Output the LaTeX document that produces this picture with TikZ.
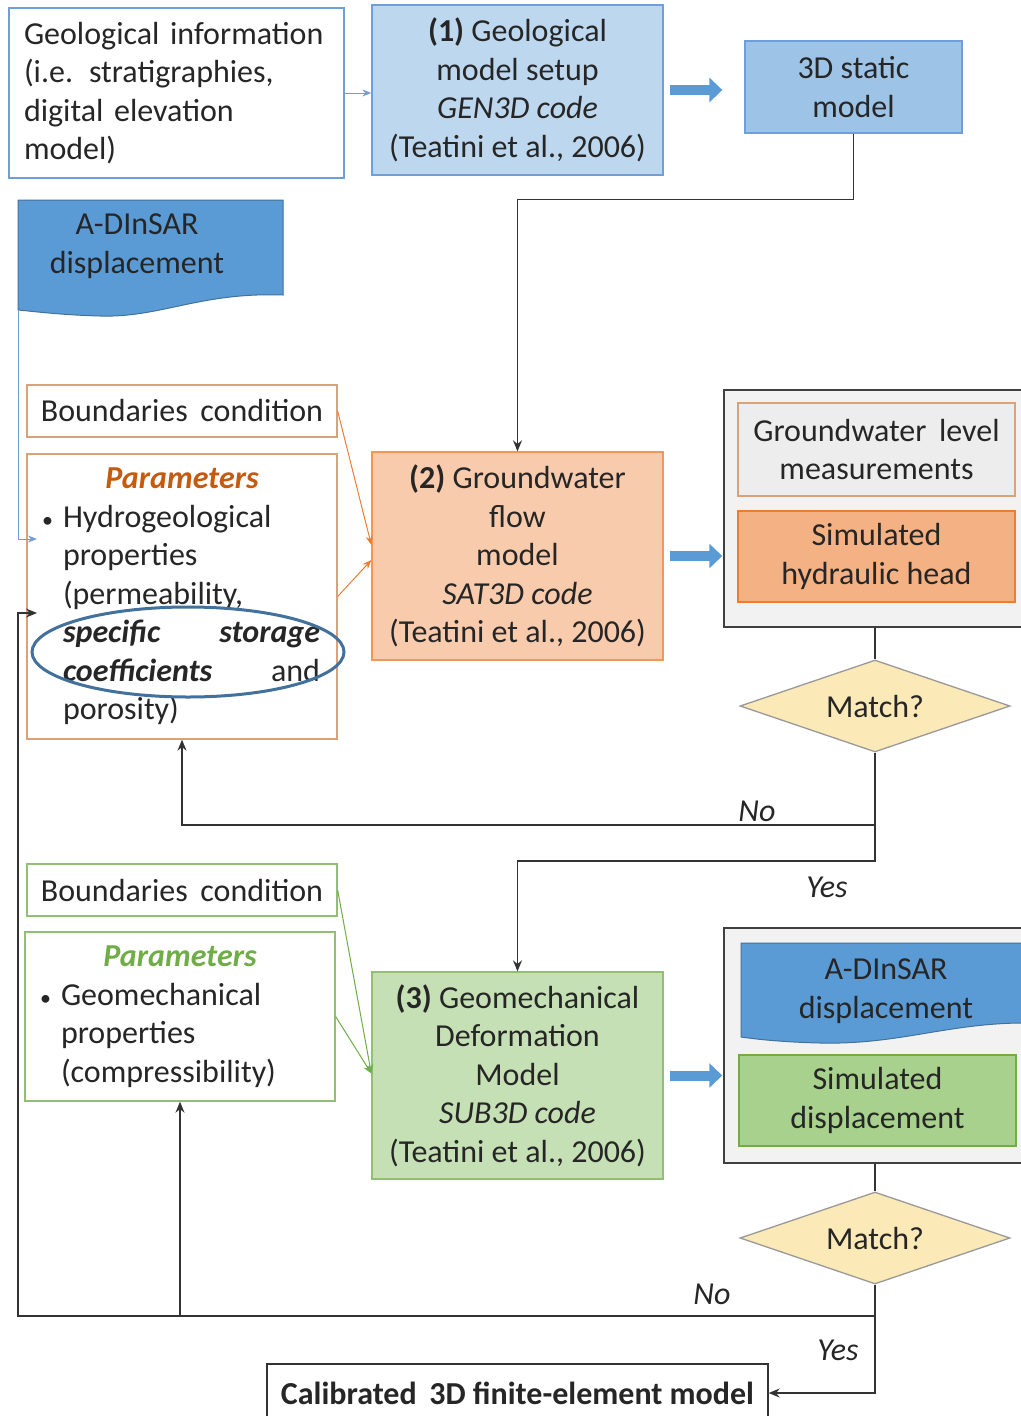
\documentclass[tikz,border=0pt]{standalone}
\usepackage{fontspec}
\setmainfont{Carlito}
\usepackage{xcolor}
\usetikzlibrary{shapes.geometric,arrows.meta}

\definecolor{txt}{HTML}{262626}
\definecolor{blueline}{HTML}{6F9FD8}
\definecolor{bluefill}{HTML}{BDD7EE}
\definecolor{bluemid}{HTML}{9DC3E6}
\definecolor{bluedark}{HTML}{5B9BD5}
\definecolor{bluedraw}{HTML}{41719C}
\definecolor{orgline}{HTML}{D9A27A}
\definecolor{orgfill}{HTML}{F8CBAD}
\definecolor{orgmid}{HTML}{F4B183}
\definecolor{orgdraw}{HTML}{ED7D31}
\definecolor{orgtext}{HTML}{C55A11}
\definecolor{grnline}{HTML}{93BE76}
\definecolor{grnfill}{HTML}{C5E0B4}
\definecolor{grnmid}{HTML}{A9D18E}
\definecolor{grndraw}{HTML}{70AD47}
\definecolor{panel}{HTML}{F2F2F2}
\definecolor{match}{HTML}{FCE9B8}

\newcommand{\smallbullet}{{\fontsize{22}{22}\selectfont\textbullet}}

\begin{document}
\begin{tikzpicture}[x=1pt, y=-1pt,
    font=\fontsize{32}{38.5}\selectfont, text=txt,
    box/.style={shape=rectangle, draw, line width=1.3pt, align=center, inner sep=0pt},
    txtbox/.style={box, align=left, inner xsep=15pt},
    panelbox/.style={shape=rectangle, draw=black!75, fill=panel, line width=1.5pt},
    ask/.style={shape=diamond, draw=black!40, fill=match, line width=1.3pt, aspect=3,
      inner sep=0pt, minimum width=270, minimum height=92},
    doc/.style={draw=bluedraw, fill=bluedark, line width=1pt},
    line/.style={draw=black!80, line width=1.5pt},
    arr/.style={line, -{Stealth[length=11pt,width=9pt]}},
    thin/.style={line width=1pt, -{Stealth[length=9pt,width=7pt]}},
    fat/.style={draw=bluedark, line width=10pt, -{Triangle[length=13pt,width=24pt]}},
    lab/.style={font=\fontsize{32}{38.5}\selectfont\itshape}]
    \useasboundingbox[fill=white] (0,0) rectangle (1020,1416);

    % top row
    \node[txtbox, draw=blueline, minimum width=335, minimum height=170, text width=305] (geoinfo) at (176.5,93)
      {Geological information\\(i.e. stratigraphies,\\digital elevation\\model)};
    \node[box, draw=blueline, fill=bluefill, minimum width=291, minimum height=170] (setup) at (517.5,90)
      {\textbf{(1)} Geological\\model setup\\\textit{GEN3D code}\\(Teatini et al., 2006)};
    \node[box, draw=blueline, fill=bluemid, minimum width=217, minimum height=92] (static) at (853.5,87)
      {3D static\\model};

    % satellite data
    \draw[doc] (18,200) -- (283,200) -- (283,295) .. controls (200,292) and (160,318) .. (100,316)
      .. controls (60,315) and (30,311) .. (18,310) -- cycle;
    \node[align=center] (insar) at (137,246) {A-DInSAR\\displacement};
    \coordinate (insarfoot) at (18,310);

    % groundwater flow
    \node[box, draw=orgline, minimum width=310, minimum height=52] (bc1) at (182,411) {Boundaries\, condition};
    \node[txtbox, draw=orgline, minimum width=310, minimum height=285, text width=280] (par1) at (182,596.5) {%
      \centering\textcolor{orgtext}{\bfseries\itshape Parameters}\par
      \raggedright\leftskip=21pt
      \leavevmode\llap{\smallbullet\hspace{10pt}}Hydrogeological\\
      properties\\
      (permeability,\\
      \makebox[257pt][l]{\textbf{\textit{specific}}\hfill\textbf{\textit{storage}}}\\
      \makebox[257pt][l]{\textbf{\textit{coefficients}}\hfill and}\\
      porosity)\par};
    \node[box, draw=orgdraw!80, fill=orgfill, minimum width=291, minimum height=208] (flow) at (517.5,556)
      {\textbf{(2)} Groundwater\\flow\\model\\\textit{SAT3D code}\\(Teatini et al., 2006)};
    \node[panelbox, minimum width=302, minimum height=237] (cont1) at (875,508.5) {};
    \node[box, draw=orgline, fill=black!7, minimum width=277, minimum height=93] (gwl) at (876.5,449.5)
      {Groundwater\, level\\measurements};
    \node[box, draw=orgdraw, fill=orgmid, minimum width=277, minimum height=91] (simhead) at (876.5,556.5)
      {Simulated\\hydraulic head};
    \node[ask] (match1) at (875,706) {Match?};

    % deformation
    \node[box, draw=grnline, minimum width=310, minimum height=52] (bc2) at (182,890) {Boundaries\, condition};
    \node[txtbox, draw=grnline, minimum width=310, minimum height=169, text width=280] (par2) at (180,1016.5) {%
      \centering\textcolor{grndraw}{\bfseries\itshape Parameters}\par
      \raggedright\leftskip=21pt
      \leavevmode\llap{\smallbullet\hspace{10pt}}Geomechanical\\
      properties\\
      (compressibility)\par};
    \node[box, draw=grnline, fill=grnfill, minimum width=291, minimum height=207] (deform) at (517.5,1075.5)
      {\textbf{(3)} Geomechanical\\Deformation\\Model\\\textit{SUB3D code}\\(Teatini et al., 2006)};
    \node[panelbox, minimum width=302, minimum height=235] (cont2) at (875,1045.5) {};
    \draw[doc] (741,943) -- (1030,943) -- (1030,1023) .. controls (950,1022) and (900,1045) .. (820,1043)
      .. controls (780,1042) and (755,1039) .. (741,1037) -- cycle;
    \node[align=center] (insar2) at (886,991) {A-DInSAR\\displacement};
    \node[box, draw=grndraw, fill=grnmid, minimum width=277, minimum height=91] (simdisp) at (877.5,1100.5)
      {Simulated\\displacement};
    \node[ask] (match2) at (875,1238) {Match?};

    \node[box, draw=black!80, minimum width=501, minimum height=58] (final) at (517.5,1393)
      {\bfseries Calibrated\, 3D finite-element model};

    % joints
    \coordinate (no1) at (875,825);
    \coordinate (yes1) at (875,861);
    \coordinate (no2) at (875,1316);
    \coordinate (back) at (18,1316);
    \coordinate (par1tip) at (37,613);
    \coordinate (insartip) at (37,539);

    % connectors
    \draw[thin, blueline] (geoinfo.east) -- (geoinfo.east -| setup.west);
    \draw[fat, shorten <=6pt, shorten >=22pt] (setup.east) -- (setup.east -| static.west);
    \draw[arr] (static.south) -- ++(0,66) -| (flow.north);
    \draw[thin, blueline] (insarfoot) |- (insartip);
    \draw[thin, orgdraw] (bc1.east) -- ([yshift=11pt]flow.west);
    \draw[thin, orgdraw] (par1.east) -- ([yshift=-4pt]flow.west);
    \draw[fat, shorten <=6pt, shorten >=1pt] (flow.east) -- (flow.east -| cont1.west);
    \draw[line] (cont1.south) -- (match1.north);
    \draw[arr] (match1.south) -- (no1) -| (par1.south);
    \draw[arr] (no1) -- (yes1) -| (deform.north);
    \draw[thin, grndraw] (bc2.east) -- ([yshift=2pt]deform.west);
    \draw[thin, grndraw] (par2.east) -- ([yshift=2pt]deform.west);
    \draw[fat, shorten <=6pt, shorten >=1pt] (deform.east) -- (deform.east -| cont2.west);
    \draw[line] (cont2.south) -- (match2.north);
    \draw[arr] (match2.south) -- (no2) -- (back) |- (par1tip);
    \draw[arr] (par2.south |- no2) -- (par2.south);
    \draw[arr] (no2) |- (final.east);

    \node[lab] (nolab1) at (757,811) {No};
    \node[lab] (yeslab1) at (827,887) {Yes};
    \node[lab] (nolab2) at (712,1294) {No};
    \node[lab] (yeslab2) at (838,1350) {Yes};

    % highlight
    \draw[bluedraw, line width=3pt] (188,652) ellipse [x radius=156, y radius=45];
\end{tikzpicture}
\end{document}
